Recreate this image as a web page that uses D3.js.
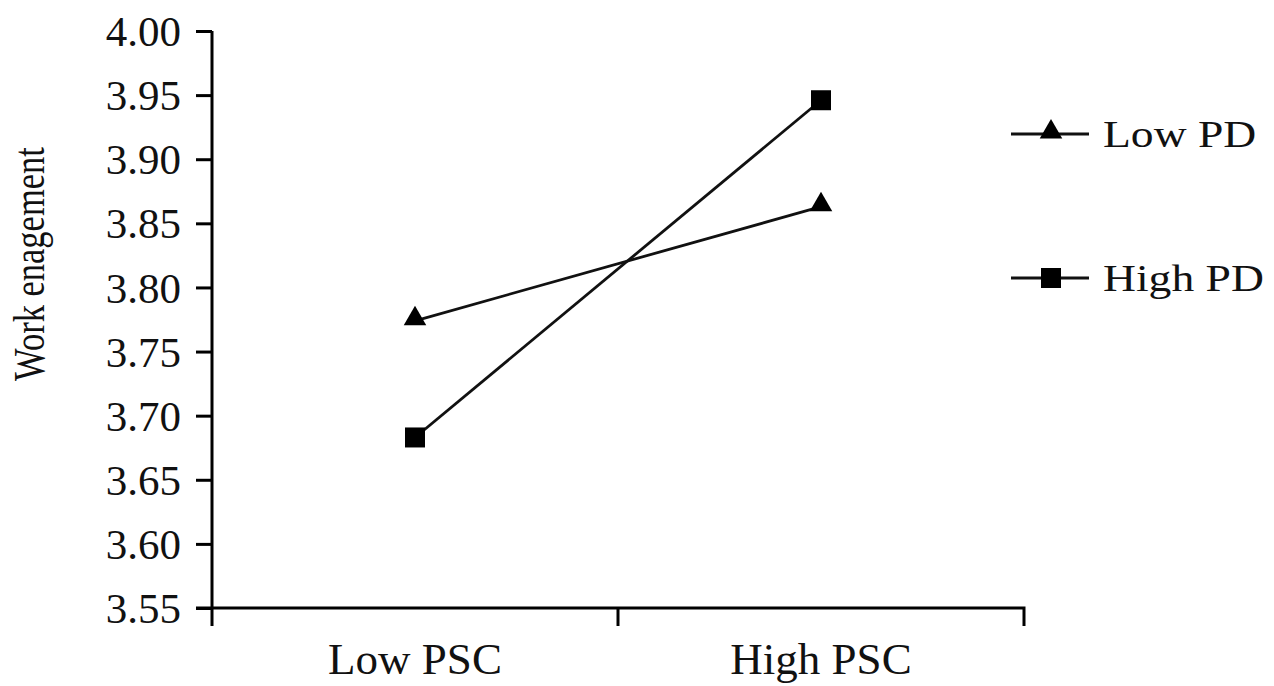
<!DOCTYPE html>
<html>
<head>
<meta charset="utf-8">
<script src="https://cdn.jsdelivr.net/npm/d3@7"></script>
<style>
    body { margin: 0; background: #fff; }
    text { font-family: "Liberation Serif", "Times New Roman", serif; fill: #111; }
</style>
</head>
<body>
<div id="chart"></div>
<script>
// Data
const categories = ["Low PSC", "High PSC"];
const lowPD = [3.774, 3.863];
const highPD = [3.683, 3.946];
const yTicks = [3.55, 3.60, 3.65, 3.70, 3.75, 3.80, 3.85, 3.90, 3.95, 4.00];
const seriesNames = ["Low PD", "High PD"];

const width = 1274, height = 686;
const margin = { left: 212, right: 250, top: 31, bottom: 78 };

const svg = d3.select("#chart").append("svg")
    .attr("width", width)
    .attr("height", height);

// Scales
const x = d3.scaleBand()
    .domain(categories)
    .range([margin.left, 1024])
    .paddingInner(0)
    .paddingOuter(0);

const y = d3.scaleLinear()
    .domain([3.55, 4.00])
    .range([height - margin.bottom, margin.top]);

// Y axis
const yAxis = svg.append("g")
    .attr("transform", "translate(" + margin.left + ",0)")
    .call(d3.axisLeft(y).tickValues(yTicks).tickFormat(d3.format(".2f")).tickSize(16).tickPadding(15));
yAxis.select(".domain").attr("stroke-width", 3).attr("d", "M0," + y(4.00) + "V" + (y(3.55) + 18));
yAxis.selectAll(".tick line").attr("stroke-width", 3);
yAxis.selectAll("text").style("font-size", "43px").attr("dy", "0.34em")
    .style("font-family", "'Liberation Serif', serif").attr("fill", "#111");

// X axis
const xAxis = svg.append("g")
    .attr("transform", "translate(0," + y(3.55) + ")")
    .call(d3.axisBottom(x).tickSize(0));
xAxis.select(".domain").attr("stroke-width", 3).attr("d", "M" + (margin.left - 16) + ",0H1024V18");
xAxis.selectAll("text").style("font-size", "45px")
    .attr("y", 66).attr("dy", 0)
    .style("font-family", "'Liberation Serif', serif").attr("fill", "#111");
// tick marks at band boundaries
svg.append("g")
    .selectAll("line")
    .data(categories.slice(1))
    .join("line")
    .attr("x1", d => x(d)).attr("x2", d => x(d))
    .attr("y1", y(3.55)).attr("y2", y(3.55) + 18)
    .attr("stroke", "#000").attr("stroke-width", 3);

// Y title
svg.append("text")
    .attr("transform", "translate(44,264) scale(1.3,1) rotate(-90)")
    .attr("text-anchor", "middle")
    .style("font-size", "34.5px")
    .text("Work enagement");

const cx = d => x(d) + x.bandwidth() / 2;
const line = d3.line().x((d, i) => cx(categories[i])).y(d => y(d));

const triangle = d3.symbol().type(d3.symbolTriangle).size(220);
const square = d3.symbol().type(d3.symbolSquare).size(400);

// Lines
svg.append("path").datum(lowPD).attr("d", line)
    .attr("fill", "none").attr("stroke", "#111").attr("stroke-width", 2.8);
svg.append("path").datum(highPD).attr("d", line)
    .attr("fill", "none").attr("stroke", "#111").attr("stroke-width", 2.8);

// Markers
svg.append("g").selectAll("path")
    .data(lowPD)
    .join("path")
    .attr("d", triangle)
    .attr("transform", (d, i) => "translate(" + cx(categories[i]) + "," + (y(d) - 2) + ")")
    .attr("fill", "#000");

svg.append("g").selectAll("path")
    .data(highPD)
    .join("path")
    .attr("d", square)
    .attr("transform", (d, i) => "translate(" + cx(categories[i]) + "," + y(d) + ")")
    .attr("fill", "#000");

// Legend
const legendY = [134, 278];
const legend = svg.append("g")
    .selectAll("g")
    .data(seriesNames)
    .join("g")
    .attr("transform", (d, i) => "translate(1011," + legendY[i] + ")");
legend.append("line")
    .attr("x1", 0).attr("x2", 78)
    .attr("stroke", "#111").attr("stroke-width", 2.8);
legend.append("path")
    .attr("d", (d, i) => i === 0 ? triangle() : square())
    .attr("transform", (d, i) => "translate(40," + (i === 0 ? -2 : 0) + ")")
    .attr("fill", "#000");
legend.append("text")
    .attr("transform", "translate(92,0) scale(1.2,1)")
    .attr("dy", "0.33em")
    .style("font-size", "38px")
    .text(d => d);
</script>
</body>
</html>
